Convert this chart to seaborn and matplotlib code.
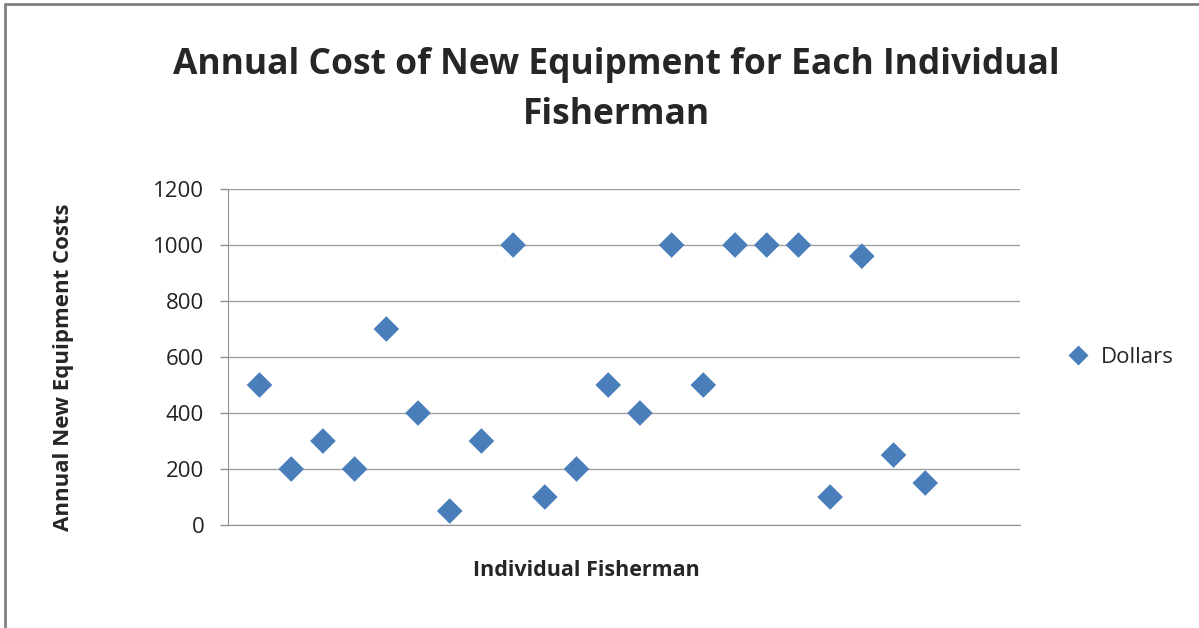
import numpy as np
import pandas as pd
import matplotlib
matplotlib.use("Agg")
import matplotlib.pyplot as plt
from matplotlib.lines import Line2D
import seaborn as sns

# -------------------------------
# DATA
# -------------------------------
fisherman = list(range(1, 23))
dollars = [500, 200, 300, 200, 700, 400, 50, 300, 1000, 100, 200,
           500, 400, 1000, 500, 1000, 1000, 1000, 100, 960, 250, 150]
series_name = "Dollars"
y_ticks = [0, 200, 400, 600, 800, 1000, 1200]

df = pd.DataFrame({"Fisherman": fisherman, "Cost": dollars, "Series": series_name})

# -------------------------------
# STYLE
# -------------------------------
sns.set_style("white")
plt.rcParams["font.family"] = ["Open Sans", "DejaVu Sans"]

fig = plt.figure(figsize=(11.99, 6.28), dpi=100)
ax = fig.add_axes([0.190, 0.164, 0.661, 0.535])

sns.scatterplot(data=df, x="Fisherman", y="Cost", hue="Series",
                palette=["#4A7EBB"], marker="D", s=170, edgecolor="none", ax=ax)

ax.set_xlim(0, 25)
ax.set_ylim(0, 1200)
ax.set_yticks(y_ticks)
ax.set_xticks([])
ax.yaxis.grid(True, color="#A0A0A0", linewidth=1)
ax.set_axisbelow(True)
for side in ["top", "right"]:
    ax.spines[side].set_visible(False)
for side in ["left", "bottom"]:
    ax.spines[side].set_color("#909090")
ax.tick_params(axis="y", which="both", left=True, length=6, width=1,
               color="#909090", labelsize=16, labelcolor="#222222", pad=11)

ax.set_xlabel("Individual Fisherman", fontsize=15.5, fontweight="bold")
ax.xaxis.set_label_coords(0.453, -0.104)
ax.set_ylabel("Annual New Equipment Costs", fontsize=16, fontweight="bold")
ax.yaxis.set_label_coords(-0.194, 0.47)

fig.suptitle("Annual Cost of New Equipment for Each Individual\nFisherman",
             fontsize=25.5, fontweight="bold", x=0.514, y=0.925, linespacing=1.5)

leg = ax.legend(loc="center left", bbox_to_anchor=(1.02, 0.5), frameon=False,
                fontsize=16, handletextpad=0.0, markerscale=0.75)

# chart border (top and left visible in the reference)
fig.add_artist(Line2D([0.004, 0.004], [0, 0.993], transform=fig.transFigure,
                      color="#808080", linewidth=2))
fig.add_artist(Line2D([0.004, 1], [0.993, 0.993], transform=fig.transFigure,
                      color="#808080", linewidth=2))

fig.savefig("out.png", dpi=100)
